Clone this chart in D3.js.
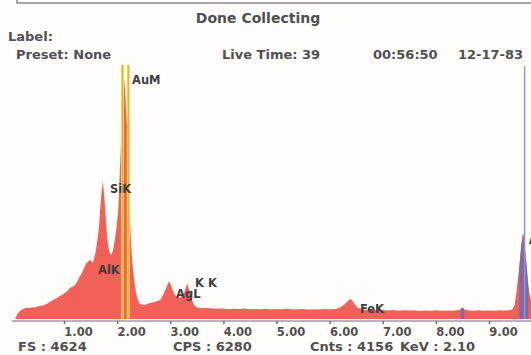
<!DOCTYPE html>
<html>
<head>
<meta charset="utf-8">
<script src="https://cdn.jsdelivr.net/npm/d3@7"></script>
<style>
  body { margin: 0; background: #fffefb; }
  svg { display: block; }
  text { font-family: 'DejaVu Sans', Verdana, sans-serif; font-weight: bold; fill: #505050; }
</style>
</head>
<body>
<div id="chart"></div>
<script>
// spectrum: [keV, counts]
const spectrum = [
  [0.08, 0], [0.10, 40], [0.13, 95], [0.17, 140], [0.21, 165], [0.26, 185], [0.30, 195], [0.35, 190],
  [0.40, 205], [0.45, 200], [0.50, 215], [0.55, 225], [0.60, 235], [0.64, 248], [0.69, 270], [0.74, 305],
  [0.78, 320], [0.83, 345], [0.88, 370], [0.92, 400], [0.97, 420], [1.02, 455], [1.06, 480], [1.11, 535],
  [1.16, 560], [1.21, 590], [1.25, 650], [1.30, 745], [1.34, 800], [1.37, 870], [1.40, 930], [1.43, 975],
  [1.46, 1000], [1.49, 1025], [1.52, 990], [1.54, 970], [1.57, 1060], [1.60, 1180], [1.63, 1380], [1.66, 1610],
  [1.68, 1900], [1.70, 2130], [1.73, 2390], [1.75, 2200], [1.77, 1960], [1.79, 1700], [1.81, 1440], [1.83, 1280],
  [1.85, 1180], [1.88, 1110], [1.90, 1130], [1.92, 1180], [1.95, 1330], [1.98, 1520], [2.00, 1700], [2.02, 1870],
  [2.05, 2560], [2.07, 3000], [2.09, 3430], [2.11, 3850], [2.13, 4157], [2.15, 3950], [2.17, 3600], [2.19, 3260],
  [2.21, 2700], [2.22, 2220], [2.24, 1750], [2.26, 1350], [2.28, 1050], [2.30, 830], [2.33, 620], [2.35, 485],
  [2.39, 330], [2.43, 260], [2.47, 250], [2.52, 242], [2.57, 265], [2.62, 277], [2.66, 285], [2.71, 294],
  [2.76, 310], [2.81, 330], [2.85, 390], [2.88, 450], [2.91, 510], [2.94, 575], [2.97, 640], [2.99, 645],
  [3.02, 560], [3.05, 485], [3.08, 430], [3.11, 400], [3.15, 375], [3.18, 365], [3.22, 400], [3.26, 450],
  [3.29, 540], [3.32, 610], [3.35, 520], [3.39, 415], [3.42, 300], [3.46, 225], [3.51, 200], [3.56, 190],
  [3.6, 185], [3.7, 192], [3.8, 180], [3.9, 176], [4.0, 184], [4.1, 170], [4.2, 178], [4.3, 172],
  [4.4, 181], [4.5, 168], [4.6, 175], [4.7, 170], [4.8, 178], [4.9, 165], [5.0, 172], [5.1, 168],
  [5.2, 176], [5.3, 166], [5.4, 170], [5.5, 174], [5.6, 162], [5.7, 170], [5.8, 166], [5.9, 172],
  [6.0, 168], [6.1, 175], [6.18, 190], [6.25, 235], [6.31, 280], [6.36, 330], [6.40, 346], [6.44, 300],
  [6.48, 245], [6.53, 195], [6.6, 170], [6.7, 158], [6.8, 162], [6.9, 150], [7.0, 156], [7.1, 148],
  [7.2, 154], [7.3, 145], [7.4, 152], [7.5, 146], [7.6, 150], [7.7, 140], [7.8, 148], [7.9, 144],
  [8.0, 150], [8.1, 142], [8.2, 148], [8.3, 145], [8.4, 152], [8.46, 165], [8.50, 200], [8.54, 165],
  [8.6, 150], [8.7, 145], [8.8, 150], [8.9, 142], [9.0, 148], [9.1, 144], [9.2, 150], [9.3, 146],
  [9.38, 150], [9.44, 165], [9.48, 240], [9.51, 420], [9.55, 745], [9.58, 1000], [9.61, 1300], [9.64, 1490],
  [9.66, 1350], [9.68, 1180], [9.71, 900], [9.73, 660], [9.76, 450], [9.79, 320], [9.82, 250]
];

const tickValues = [1, 2, 3, 4, 5, 6, 7, 8, 9];
const fullScale = 4624;

// element line labels [name, keV, counts]
const peakLabels = [
  ['AuM', 2.28, 4070], ['SiK', 1.865, 2182], ['AlK', 1.64, 779], ['AgL', 3.11, 364],
  ['K K', 3.465, 554], ['FeK', 6.57, 104], ['AuL', 9.75, 1299]
];

// yellow cursor markers (keV) and blue marker (keV)
const cursorMarkers = [2.10, 2.21];
const blueMarkers = [9.67];
// highlighted regions of interest [from, to] keV
const roiRegions = [[8.47, 8.53], [9.57, 9.74]];

const headerTexts = [
  ['Label:', 8, 41], ['Preset: None', 16, 59], ['Live Time: 39', 222, 59],
  ['00:56:50', 373, 59], ['12-17-83', 458, 59]
];
const footerTexts = [
  ['FS : 4624', 18], ['CPS : 6280', 173], ['Cnts : 4156', 310], ['KeV : 2.10', 400]
];

const width = 531, height = 355;
const baseY = 319;

const svg = d3.select('#chart').append('svg')
  .attr('width', width)
  .attr('height', height);

svg.append('rect').attr('width', width).attr('height', height).attr('fill', '#fffefb');

const x = d3.scaleLinear().domain([0, 10]).range([10.9, 542.15]);
const y = d3.scaleLinear().domain([0, fullScale]).range([baseY, 52]);

// top frame
svg.append('path')
  .attr('d', 'M17,0 V3 H531')
  .attr('fill', 'none')
  .attr('stroke', '#8a8a8a')
  .attr('stroke-width', 1.5);

svg.append('text')
  .attr('x', 258)
  .attr('y', 23)
  .attr('text-anchor', 'middle')
  .style('font-size', '14px')
  .text('Done Collecting');

headerTexts.forEach(function (d) {
  svg.append('text').attr('x', d[1]).attr('y', d[2]).style('font-size', '13px').text(d[0]);
});

// spectrum area
const area = d3.area()
  .x(function (d) { return x(d[0]); })
  .y0(baseY)
  .y1(function (d) { return y(d[1]); });

svg.append('path')
  .datum(spectrum)
  .attr('fill', '#f2605a')
  .attr('d', area);

// purple regions of interest
const defs = svg.append('defs');
roiRegions.forEach(function (r, i) {
  defs.append('clipPath').attr('id', 'roi' + i)
    .append('rect')
    .attr('x', x(r[0]))
    .attr('y', 0)
    .attr('width', x(r[1]) - x(r[0]))
    .attr('height', height);
  svg.append('path')
    .datum(spectrum)
    .attr('clip-path', 'url(#roi' + i + ')')
    .attr('fill', '#8466a6')
    .attr('d', area);
});

// cursor markers
cursorMarkers.forEach(function (k) {
  svg.append('line')
    .attr('x1', x(k)).attr('x2', x(k))
    .attr('y1', y(4400)).attr('y2', baseY)
    .attr('stroke', '#f7dc5a')
    .attr('stroke-width', 3);
  svg.append('line')
    .attr('x1', x(k)).attr('x2', x(k))
    .attr('y1', y(4400)).attr('y2', baseY)
    .attr('stroke', '#f0a030')
    .attr('stroke-width', 1);
});

blueMarkers.forEach(function (k) {
  svg.append('line')
    .attr('x1', x(k)).attr('x2', x(k))
    .attr('y1', y(4380)).attr('y2', baseY)
    .attr('stroke', '#8e9ccc')
    .attr('stroke-width', 1.5);
});

// peak labels
peakLabels.forEach(function (d) {
  svg.append('text')
    .attr('x', x(d[1]))
    .attr('y', y(d[2]))
    .style('font-size', '11.5px')
    .style('fill', '#3e3e3e')
    .text(d[0]);
});

// energy axis
const axis = svg.append('g')
  .attr('transform', 'translate(0,' + (baseY + 2) + ')')
  .call(d3.axisBottom(x).tickValues(tickValues).tickSize(3).tickFormat(d3.format('.2f')));

axis.select('.domain')
  .attr('d', 'M12,0 H531')
  .attr('stroke', '#9a9ab2')
  .attr('stroke-width', 1.5);
axis.selectAll('.tick line').attr('stroke', '#6a6a80').attr('stroke-width', 1.5);
axis.selectAll('.tick text')
  .attr('dx', 14)
  .attr('y', 6.5)
  .style('font-family', "'DejaVu Sans', Verdana, sans-serif")
  .style('font-weight', 'bold')
  .style('font-size', '11.5px')
  .style('fill', '#505050');

footerTexts.forEach(function (d) {
  svg.append('text').attr('x', d[1]).attr('y', 350.5).style('font-size', '13px').text(d[0]);
});
</script>
</body>
</html>
